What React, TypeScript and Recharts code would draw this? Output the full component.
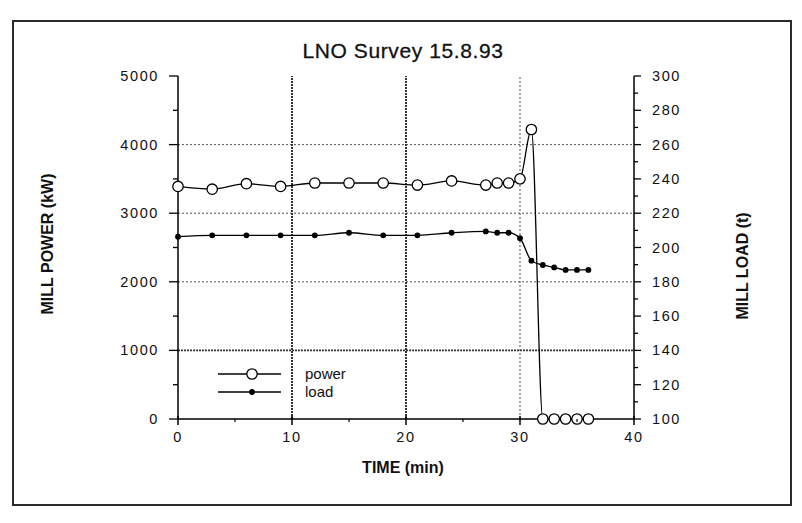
import React from 'react';
import {
  ComposedChart,
  Line,
  XAxis,
  YAxis,
  ReferenceLine,
  Customized,
} from 'recharts';

// Survey readings, one row per sample time
const timeMin = [0, 3, 6, 9, 12, 15, 18, 21, 24, 27, 28, 29, 30, 31, 32, 33, 34, 35, 36];
const powerKW = [3390, 3350, 3430, 3390, 3440, 3440, 3440, 3410, 3470, 3410, 3440, 3440, 3500, 4220, 0, 0, 0, 0, 0];
const loadT = [206.3, 207.1, 207.1, 207.1, 207.1, 208.6, 207.1, 207.1, 208.6, 209.4, 208.6, 208.6, 205.4, 192.3, 189.8, 188.4, 186.9, 186.9, 186.9];

// Series names, in legend order
const seriesNames = ['power', 'load'];

// Axis ticks (majors carry labels, the rest are minor marks)
const timeTicks = [0, 5, 10, 15, 20, 25, 30, 35, 40];
const timeLabelled = [0, 10, 20, 30, 40];
const powerTicks = [0, 500, 1000, 1500, 2000, 2500, 3000, 3500, 4000, 4500, 5000];
const powerLabelled = [0, 1000, 2000, 3000, 4000, 5000];
const loadTicks = [100, 110, 120, 130, 140, 150, 160, 170, 180, 190, 200, 210, 220, 230, 240, 250, 260, 270, 280, 290, 300];
const loadLabelled = [100, 120, 140, 160, 180, 200, 220, 240, 260, 280, 300];

// Grid lines
const timeGridStrong = [10, 20];
const timeGridLight = [30];
const powerGridStrong = [1000];
const powerGridLight = [2000, 3000, 4000];

const data = timeMin.map((t, i) => ({ t, power: powerKW[i], load: loadT[i] }));

const FONT = '"Liberation Sans", Arial, sans-serif';
const TICK_STYLE = { fontFamily: FONT, fontSize: 14.5, letterSpacing: 1.6, fill: '#111' };

const TimeTick = (props: any) => {
  const { x, y, payload } = props;
  const major = timeLabelled.includes(payload.value);
  return (
    <g>
      {major ? (
        <line x1={x} x2={x} y1={y - 3} y2={y + 6} stroke="#000" strokeWidth={1.5} />
      ) : (
        <line x1={x} x2={x} y1={y} y2={y + 3} stroke="#000" strokeWidth={1.2} />
      )}
      {major && (
        <text x={x} y={y + 23} textAnchor="middle" style={TICK_STYLE}>
          {payload.value}
        </text>
      )}
    </g>
  );
};

const PowerTick = (props: any) => {
  const { x, y, payload } = props;
  const major = powerLabelled.includes(payload.value);
  return (
    <g>
      <line x1={major ? x - 9 : x - 5} x2={x} y1={y} y2={y} stroke="#000" strokeWidth={1.3} />
      {major && (
        <text x={x - 19} y={y + 5} textAnchor="end" style={TICK_STYLE}>
          {payload.value}
        </text>
      )}
    </g>
  );
};

const LoadTick = (props: any) => {
  const { x, y, payload } = props;
  const major = loadLabelled.includes(payload.value);
  return (
    <g>
      <line x1={x} x2={major ? x + 7 : x + 4} y1={y} y2={y} stroke="#000" strokeWidth={1.3} />
      {major && (
        <text x={x + 18} y={y + 5} textAnchor="start" style={TICK_STYLE}>
          {payload.value}
        </text>
      )}
    </g>
  );
};

const OpenDot = (props: any) => {
  const { cx, cy, index } = props;
  if (cx == null || cy == null) return <g key={index} />;
  return <circle key={index} cx={cx} cy={cy} r={5.2} fill="#fff" stroke="#000" strokeWidth={1.3} />;
};

const SolidDot = (props: any) => {
  const { cx, cy, index } = props;
  if (cx == null || cy == null) return <g key={index} />;
  return <circle key={index} cx={cx} cy={cy} r={2.9} fill="#000" stroke="none" />;
};

// Legend block inside the plot, lower left
const LegendBlock = () => (
  <g transform="translate(218 374)">
    {seriesNames.map((name, i) => {
      const y = i * 18;
      const open = i === 0;
      return (
        <g key={name}>
          <line x1={0} x2={63} y1={y} y2={y} stroke="#000" strokeWidth={1.3} />
          {open ? (
            <circle cx={34} cy={y} r={5.2} fill="#fff" stroke="#000" strokeWidth={1.3} />
          ) : (
            <circle cx={34} cy={y} r={2.9} fill="#000" />
          )}
          <text x={87} y={y + 5} style={{ fontFamily: FONT, fontSize: 15, fill: '#111' }}>
            {name}
          </text>
        </g>
      );
    })}
  </g>
);

const Titles = () => (
  <g style={{ fontFamily: FONT }}>
    <text x={403} y={58} textAnchor="middle" style={{ fontSize: 21, fill: '#111', letterSpacing: 0.6, stroke: '#111', strokeWidth: 0.3 }}>
      LNO Survey 15.8.93
    </text>
    <text
      x={0}
      y={0}
      textAnchor="middle"
      transform="translate(53 244) rotate(-90)"
      style={{ fontSize: 16, fontWeight: 700, fill: '#111' }}
    >
      MILL POWER (kW)
    </text>
    <text
      x={0}
      y={0}
      textAnchor="middle"
      transform="translate(748 266) rotate(-90)"
      style={{ fontSize: 16, fontWeight: 700, fill: '#111' }}
    >
      MILL LOAD (t)
    </text>
    <text x={403} y={473} textAnchor="middle" style={{ fontSize: 16, fontWeight: 700, fill: '#111' }}>
      TIME (min)
    </text>
  </g>
);

export default function App() {
  return (
    <div style={{ position: 'absolute', left: 0, top: 0, width: 802, height: 523, background: '#fff' }}>
      <div
        style={{
          position: 'absolute',
          left: 12,
          top: 20,
          width: 776,
          height: 482,
          border: '2px solid #2a2a2a',
        }}
      />
      <div style={{ position: 'absolute', left: 0, top: 0 }}>
        <ComposedChart width={802} height={523} data={data} margin={{ top: 76, right: 0, bottom: 0, left: 0 }}>
          <XAxis
            dataKey="t"
            type="number"
            domain={[0, 40]}
            ticks={timeTicks}
            interval={0}
            height={104}
            tickSize={0}
            tickMargin={0}
            tick={<TimeTick />}
            axisLine={{ stroke: '#000', strokeWidth: 1.5 }}
            tickLine={false}
          />
          <YAxis
            yAxisId="power"
            orientation="left"
            domain={[0, 5000]}
            ticks={powerTicks}
            interval={0}
            width={178}
            tickSize={0}
            tickMargin={0}
            tick={<PowerTick />}
            axisLine={{ stroke: '#000', strokeWidth: 1.5 }}
            tickLine={false}
          />
          <YAxis
            yAxisId="load"
            orientation="right"
            domain={[100, 300]}
            ticks={loadTicks}
            interval={0}
            width={168}
            tickSize={0}
            tickMargin={0}
            tick={<LoadTick />}
            axisLine={{ stroke: '#000', strokeWidth: 1.5 }}
            tickLine={false}
          />
          {powerGridLight.map((v) => (
            <ReferenceLine key={`pg${v}`} yAxisId="power" y={v} stroke="#555" strokeWidth={1} strokeDasharray="2 2" />
          ))}
          {powerGridStrong.map((v) => (
            <ReferenceLine key={`ps${v}`} yAxisId="power" y={v} stroke="#333" strokeWidth={1.6} strokeDasharray="2 1" />
          ))}
          {timeGridLight.map((v) => (
            <ReferenceLine key={`tg${v}`} yAxisId="power" x={v} stroke="#555" strokeWidth={1} strokeDasharray="2 2" />
          ))}
          {timeGridStrong.map((v) => (
            <ReferenceLine key={`ts${v}`} yAxisId="power" x={v} stroke="#333" strokeWidth={2} strokeDasharray="2 1" />
          ))}
          <Line
            yAxisId="power"
            dataKey="power"
            name={seriesNames[0]}
            type="monotone"
            stroke="#000"
            strokeWidth={1.3}
            dot={<OpenDot />}
            activeDot={false}
            isAnimationActive={false}
          />
          <Line
            yAxisId="load"
            dataKey="load"
            name={seriesNames[1]}
            type="monotone"
            stroke="#000"
            strokeWidth={1.3}
            dot={<SolidDot />}
            activeDot={false}
            isAnimationActive={false}
          />
          <Customized component={<LegendBlock />} />
          <Customized component={<Titles />} />
        </ComposedChart>
      </div>
    </div>
  );
}
